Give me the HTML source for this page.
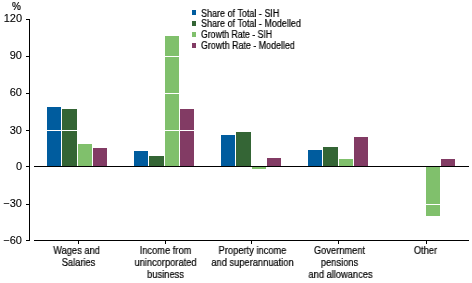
<!DOCTYPE html>
<html><head><meta charset="utf-8"><style>
html,body{margin:0;padding:0;background:#fff;}
body{width:472px;height:283px;position:relative;overflow:hidden;font-family:"Liberation Sans",sans-serif;color:#000;}
body>div{position:absolute;}
.t{position:absolute;white-space:nowrap;will-change:transform;-webkit-text-stroke:0.2px #000;}
</style></head><body>
<div style="left:47px;top:107px;width:14px;height:59px;background:#005C9E"></div>
<div style="left:62px;top:109px;width:15px;height:57px;background:#346535"></div>
<div style="left:78px;top:144px;width:14px;height:22px;background:#80C06C"></div>
<div style="left:93px;top:148px;width:14px;height:18px;background:#823B64"></div>
<div style="left:134px;top:151px;width:14px;height:15px;background:#005C9E"></div>
<div style="left:149px;top:156px;width:15px;height:10px;background:#346535"></div>
<div style="left:165px;top:36px;width:14px;height:130px;background:#80C06C"></div>
<div style="left:180px;top:109px;width:14px;height:57px;background:#823B64"></div>
<div style="left:221px;top:135px;width:14px;height:31px;background:#005C9E"></div>
<div style="left:236px;top:132px;width:15px;height:34px;background:#346535"></div>
<div style="left:252px;top:167px;width:14px;height:2px;background:#80C06C"></div>
<div style="left:267px;top:158px;width:14px;height:8px;background:#823B64"></div>
<div style="left:308px;top:150px;width:14px;height:16px;background:#005C9E"></div>
<div style="left:323px;top:147px;width:15px;height:19px;background:#346535"></div>
<div style="left:339px;top:159px;width:14px;height:7px;background:#80C06C"></div>
<div style="left:354px;top:137px;width:14px;height:29px;background:#823B64"></div>
<div style="left:426px;top:167px;width:14px;height:49px;background:#80C06C"></div>
<div style="left:441px;top:159px;width:14px;height:7px;background:#823B64"></div>
<div style="left:34px;top:19px;width:435px;height:1px;background:#fff"></div>
<div style="left:34px;top:56px;width:435px;height:1px;background:#fff"></div>
<div style="left:34px;top:93px;width:435px;height:1px;background:#fff"></div>
<div style="left:34px;top:130px;width:435px;height:1px;background:#fff"></div>
<div style="left:34px;top:204px;width:435px;height:1px;background:#fff"></div>
<div style="left:29px;top:19px;width:1px;height:222px;background:#000"></div>
<div style="left:26px;top:19px;width:3px;height:1px;background:#000"></div>
<div style="left:26px;top:56px;width:3px;height:1px;background:#000"></div>
<div style="left:26px;top:93px;width:3px;height:1px;background:#000"></div>
<div style="left:26px;top:130px;width:3px;height:1px;background:#000"></div>
<div style="left:26px;top:166px;width:3px;height:1px;background:#000"></div>
<div style="left:26px;top:204px;width:3px;height:1px;background:#000"></div>
<div style="left:26px;top:240px;width:3px;height:1px;background:#000"></div>
<div style="left:34px;top:166px;width:435px;height:1px;background:#000"></div>
<div style="left:34px;top:240px;width:435px;height:1px;background:#000"></div>
<div style="left:78px;top:241px;width:1px;height:3px;background:#000"></div>
<div style="left:165px;top:241px;width:1px;height:3px;background:#000"></div>
<div style="left:251px;top:241px;width:1px;height:3px;background:#000"></div>
<div style="left:338px;top:241px;width:1px;height:3px;background:#000"></div>
<div style="left:426px;top:241px;width:1px;height:3px;background:#000"></div>
<div style="left:192px;top:10px;width:4px;height:5px;background:#005C9E"></div>
<div style="left:192px;top:21px;width:4px;height:5px;background:#346535"></div>
<div style="left:192px;top:32px;width:4px;height:5px;background:#80C06C"></div>
<div style="left:192px;top:43px;width:4px;height:5px;background:#823B64"></div>
<div class="t" style="left:-20px;width:42px;text-align:right;top:12px;font-size:11px;line-height:12px;-webkit-text-stroke:0.1px #000">120</div>
<div class="t" style="left:-20px;width:42px;text-align:right;top:49px;font-size:11px;line-height:12px;-webkit-text-stroke:0.1px #000">90</div>
<div class="t" style="left:-20px;width:42px;text-align:right;top:86px;font-size:11px;line-height:12px;-webkit-text-stroke:0.1px #000">60</div>
<div class="t" style="left:-20px;width:42px;text-align:right;top:124px;font-size:11px;line-height:12px;-webkit-text-stroke:0.1px #000">30</div>
<div class="t" style="left:-20px;width:42px;text-align:right;top:160px;font-size:11px;line-height:12px;-webkit-text-stroke:0.1px #000">0</div>
<div class="t" style="left:-20px;width:42px;text-align:right;top:197px;font-size:11px;line-height:12px;-webkit-text-stroke:0.1px #000">&minus;30</div>
<div class="t" style="left:-20px;width:42px;text-align:right;top:234px;font-size:11px;line-height:12px;-webkit-text-stroke:0.1px #000">&minus;60</div>
<div class="t" style="left:12px;top:1px;font-size:10px;line-height:12px">%</div>
<div class="t" style="left:201px;top:8px;font-size:10px;line-height:11px;transform:scaleX(0.9);transform-origin:left top">Share of Total - SIH</div>
<div class="t" style="left:201px;top:18px;font-size:10px;line-height:11px;transform:scaleX(0.9);transform-origin:left top">Share of Total - Modelled</div>
<div class="t" style="left:201px;top:29px;font-size:10px;line-height:11px;transform:scaleX(0.87);transform-origin:left top">Growth Rate - SIH</div>
<div class="t" style="left:201px;top:40px;font-size:10px;line-height:11px;transform:scaleX(0.888);transform-origin:left top">Growth Rate - Modelled</div>
<div class="t" style="left:15.5px;width:121px;text-align:center;top:245px;font-size:10px;line-height:11px;transform:scaleX(0.93);transform-origin:center top">Wages and</div>
<div class="t" style="left:17.5px;width:121px;text-align:center;top:257px;font-size:10px;line-height:11px;transform:scaleX(0.93);transform-origin:center top">Salaries</div>
<div class="t" style="left:104.5px;width:121px;text-align:center;top:245px;font-size:10px;line-height:11px;transform:scaleX(0.93);transform-origin:center top">Income from</div>
<div class="t" style="left:105px;width:121px;text-align:center;top:257px;font-size:10px;line-height:11px;transform:scaleX(0.93);transform-origin:center top">unincorporated</div>
<div class="t" style="left:105px;width:121px;text-align:center;top:269px;font-size:10px;line-height:11px;transform:scaleX(0.93);transform-origin:center top">business</div>
<div class="t" style="left:191.5px;width:121px;text-align:center;top:245px;font-size:10px;line-height:11px;transform:scaleX(0.93);transform-origin:center top">Property income</div>
<div class="t" style="left:192.4px;width:121px;text-align:center;top:257px;font-size:10px;line-height:11px;transform:scaleX(0.93);transform-origin:center top">and superannuation</div>
<div class="t" style="left:278.5px;width:121px;text-align:center;top:245px;font-size:10px;line-height:11px;transform:scaleX(0.93);transform-origin:center top">Government</div>
<div class="t" style="left:279px;width:121px;text-align:center;top:257px;font-size:10px;line-height:11px;transform:scaleX(0.93);transform-origin:center top">pensions</div>
<div class="t" style="left:280px;width:121px;text-align:center;top:269px;font-size:10px;line-height:11px;transform:scaleX(0.93);transform-origin:center top">and allowances</div>
<div class="t" style="left:365px;width:121px;text-align:center;top:245px;font-size:10px;line-height:11px;transform:scaleX(0.93);transform-origin:center top">Other</div>
</body></html>
